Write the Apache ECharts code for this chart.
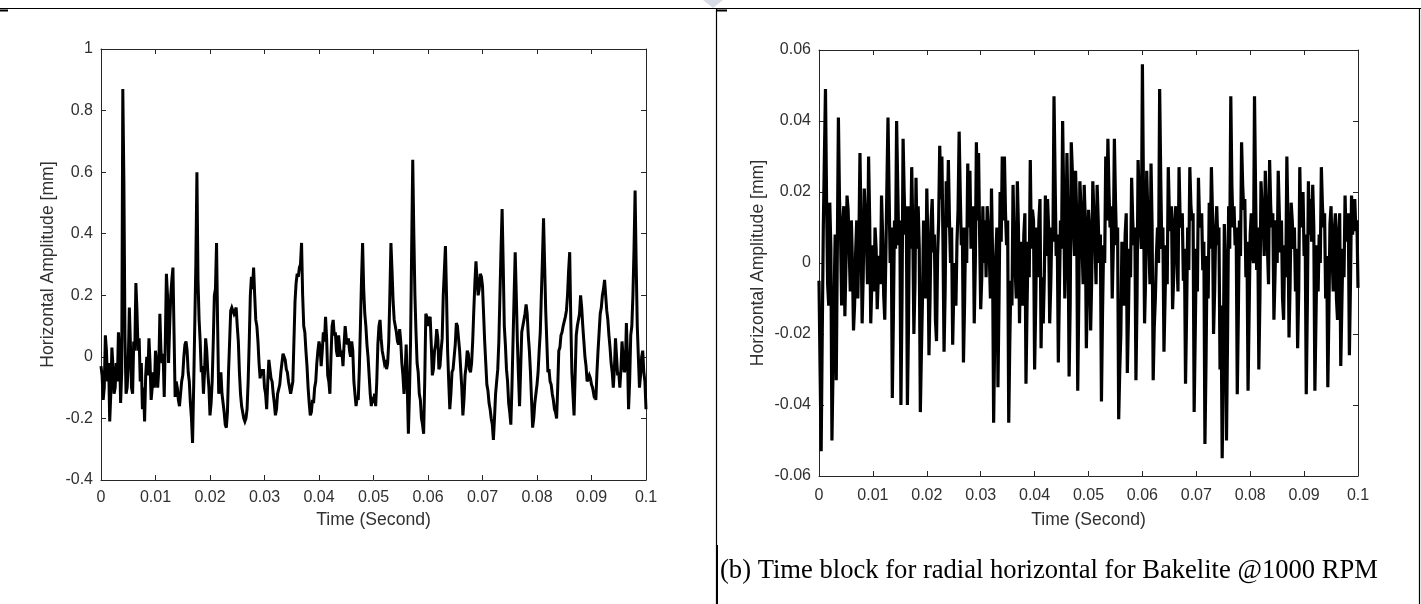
<!DOCTYPE html>
<html>
<head>
<meta charset="utf-8">
<script src="https://cdn.jsdelivr.net/npm/echarts@6/dist/echarts.min.js"></script>
<style>
html,body{margin:0;padding:0;background:#ffffff;}
#chart{width:1421px;height:604px;}
</style>
</head>
<body>
<div id="chart"></div>
<script>
// ---------------- data ----------------
const leftSampleStep = 0.0002;  // seconds between samples, panel (a)
const rightSampleStep = 0.0002; // seconds between samples, panel (b)

const xTickLabels = ['0','0.01','0.02','0.03','0.04','0.05','0.06','0.07','0.08','0.09','0.1'];
const leftYTickLabels = ['-0.4','-0.2','0','0.2','0.4','0.6','0.8','1'];
const rightYTickLabels = ['-0.06','-0.04','-0.02','0','0.02','0.04','0.06'];

const xTitle = 'Time (Second)';
const yTitle = 'Horizontal Amplitude [mm]';
const captionRight = '(b) Time block for radial horizontal for Bakelite @1000 RPM';

// panel (a): horizontal amplitude [mm]
const leftAmplitude = [
 -0.03,-0.06,-0.14,-0.10,0.07,0.02,-0.08,-0.02,-0.21,-0.12,
 0.03,-0.03,-0.12,-0.10,-0.02,-0.08,0.08,0.02,-0.15,-0.05,
 0.87,0.57,0.06,-0.12,-0.10,-0.02,0.16,0.04,-0.10,-0.12,
 0.05,0.02,0.24,0.15,0.02,0.06,-0.08,-0.02,-0.17,-0.10,
 -0.21,-0.06,0.00,-0.06,0.06,-0.02,-0.14,-0.10,-0.05,-0.10,
 0.02,-0.02,-0.10,-0.04,0.14,0.02,-0.02,0.01,-0.13,0.05,
 0.27,0.20,-0.02,0.10,0.20,0.25,0.29,0.08,-0.13,-0.08,
 -0.10,-0.14,-0.16,-0.12,-0.08,-0.06,0.00,0.04,0.05,0.02,
 -0.05,-0.08,-0.15,-0.20,-0.28,-0.10,0.10,0.30,0.60,0.25,
 0.12,0.05,-0.05,-0.03,-0.12,-0.05,0.06,0.02,-0.05,-0.10,
 -0.19,-0.15,-0.08,0.05,0.20,0.22,0.37,0.10,-0.12,-0.10,
 -0.05,-0.12,-0.15,-0.18,-0.22,-0.23,-0.18,-0.05,0.05,0.15,
 0.16,0.15,0.14,0.15,0.16,0.10,0.05,-0.05,-0.12,-0.16,
 -0.18,-0.20,-0.21,-0.20,-0.17,-0.08,0.05,0.20,0.26,0.22,
 0.29,0.20,0.12,0.10,0.05,-0.02,-0.07,-0.04,-0.06,-0.04,
 -0.10,-0.12,-0.17,-0.08,-0.01,-0.04,-0.07,-0.08,-0.12,-0.15,
 -0.19,-0.17,-0.12,-0.12,-0.09,-0.05,-0.02,0.01,0.00,-0.01,
 -0.04,-0.05,-0.08,-0.10,-0.12,-0.12,-0.08,0.05,0.18,0.24,
 0.27,0.26,0.29,0.30,0.37,0.20,0.10,0.08,0.02,-0.03,
 -0.10,-0.15,-0.19,-0.18,-0.14,-0.15,-0.10,-0.08,-0.02,0.02,
 0.05,0.03,-0.03,0.02,0.08,0.05,0.13,0.06,-0.06,-0.08,
 -0.12,0.00,0.10,0.12,0.07,0.08,0.02,0.00,0.07,0.03,
 0.00,0.02,-0.03,0.04,0.10,0.06,0.04,0.06,0.02,0.00,
 0.05,0.02,-0.08,-0.12,-0.16,-0.13,-0.14,-0.04,0.10,0.25,
 0.37,0.22,0.14,0.10,0.04,0.00,-0.06,-0.12,-0.16,-0.13,
 -0.15,-0.12,-0.16,-0.08,0.04,0.10,0.12,0.06,0.02,0.00,
 -0.02,-0.01,-0.04,-0.02,0.05,0.20,0.37,0.28,0.18,0.12,
 0.10,0.08,0.05,0.04,0.09,0.05,-0.02,-0.06,-0.12,-0.05,
 0.04,-0.10,-0.25,-0.12,0.05,0.35,0.64,0.40,0.20,0.08,
 -0.02,-0.05,-0.12,-0.14,-0.20,-0.22,-0.25,-0.08,0.14,0.13,
 0.10,0.12,0.13,0.04,-0.06,-0.04,0.02,0.04,0.09,0.06,
 -0.04,-0.03,0.02,0.06,0.20,0.28,0.36,0.20,0.02,-0.08,
 -0.17,-0.12,-0.05,-0.04,0.00,0.04,0.11,0.10,0.06,0.02,
 -0.04,-0.10,-0.19,-0.14,-0.06,-0.03,0.02,0.01,-0.04,-0.05,
 -0.02,0.05,0.15,0.24,0.31,0.25,0.20,0.22,0.27,0.26,
 0.23,0.14,0.05,-0.02,-0.09,-0.11,-0.15,-0.17,-0.20,-0.22,
 -0.27,-0.20,-0.12,-0.08,-0.04,0.05,0.20,0.35,0.48,0.30,
 0.10,0.04,-0.04,-0.08,-0.15,-0.18,-0.22,-0.10,0.05,0.20,
 0.34,0.20,0.05,-0.06,-0.16,-0.04,0.08,0.10,0.12,0.14,
 0.17,0.14,0.07,0.02,-0.05,-0.14,-0.23,-0.20,-0.15,-0.12,
 -0.09,-0.05,0.02,0.08,0.20,0.32,0.45,0.30,0.15,0.05,
 -0.05,-0.04,-0.08,-0.09,-0.12,-0.14,-0.17,-0.18,-0.20,-0.10,
 0.02,0.03,0.07,0.08,0.10,0.10,0.13,0.15,0.20,0.28,
 0.34,0.12,-0.05,-0.12,-0.19,-0.06,0.07,0.10,0.12,0.14,
 0.20,0.16,0.10,0.05,0.00,-0.03,-0.08,-0.07,-0.06,-0.07,
 -0.09,-0.10,-0.12,-0.11,-0.14,-0.05,0.02,0.08,0.14,0.16,
 0.20,0.22,0.25,0.20,0.15,0.12,0.07,0.03,-0.02,-0.05,
 -0.10,-0.04,0.06,0.00,-0.06,-0.05,-0.10,-0.04,0.05,0.00,
 -0.05,-0.04,0.11,0.00,-0.17,-0.08,0.07,0.10,0.20,0.35,
 0.54,0.30,0.10,0.00,-0.10,-0.06,0.00,0.02,-0.05,-0.08,
 -0.17
];

// panel (b): horizontal amplitude [mm], Bakelite @1000 RPM
const rightAmplitude = [
 -0.005,-0.030,-0.053,-0.020,0.010,0.030,0.049,0.018,-0.006,-0.012,
 0.017,0.004,-0.050,-0.030,-0.010,0.008,-0.033,0.004,0.041,0.018,
 0.008,-0.012,0.010,0.016,-0.015,0.000,0.019,0.015,0.004,-0.008,
 0.012,0.000,-0.019,-0.012,0.003,0.012,-0.010,0.006,0.031,0.010,
 -0.017,-0.004,0.021,0.014,0.006,-0.006,0.030,0.012,-0.017,-0.006,
 0.005,-0.008,0.010,0.004,-0.013,-0.004,0.002,-0.006,0.019,0.008,
 -0.009,-0.016,0.002,0.022,0.041,0.020,0.000,0.010,-0.038,-0.015,
 0.012,0.004,0.040,0.022,0.005,0.012,-0.040,-0.010,0.035,0.020,
 0.008,0.016,-0.040,-0.018,0.016,0.004,0.027,0.010,-0.020,-0.006,
 0.024,0.004,0.016,0.004,-0.042,-0.025,-0.010,0.012,0.000,-0.010,
 0.021,0.006,-0.026,-0.010,0.012,0.018,0.003,0.008,-0.016,-0.022,
 0.002,0.012,0.033,0.018,0.030,0.006,-0.025,-0.008,0.023,0.010,
 0.029,0.012,0.000,0.010,-0.023,-0.008,0.000,-0.012,0.006,0.015,
 0.037,0.020,0.005,0.010,-0.028,-0.012,0.010,0.000,0.028,0.010,
 0.026,0.004,0.013,0.016,-0.017,0.000,0.034,0.012,0.031,0.008,
 -0.013,-0.004,0.016,0.000,0.012,-0.004,0.016,0.010,0.002,-0.010,
 0.021,0.002,-0.045,-0.020,0.002,0.010,-0.035,-0.010,0.020,0.006,
 0.030,0.012,0.030,0.014,0.005,0.012,-0.045,-0.022,-0.005,-0.012,
 0.022,0.006,-0.002,-0.010,0.023,0.010,-0.017,0.006,-0.005,-0.012,
 0.008,0.014,-0.034,-0.012,0.006,-0.004,0.029,0.004,0.015,0.012,
 -0.030,-0.012,0.010,-0.004,0.012,0.018,-0.024,-0.004,-0.017,-0.004,
 0.019,0.002,0.018,0.010,-0.017,-0.006,0.010,0.006,0.047,0.024,
 0.002,0.008,-0.028,-0.008,0.012,0.004,0.040,0.018,-0.010,0.004,
 0.031,0.012,-0.032,-0.012,0.034,0.026,0.010,0.002,0.026,0.014,
 -0.036,-0.010,0.023,0.016,0.005,-0.006,0.022,0.012,-0.024,-0.008,
 0.015,0.010,-0.019,-0.004,0.023,0.014,0.006,-0.006,0.022,0.012,
 0.000,0.008,-0.039,-0.014,0.005,0.000,0.030,0.012,0.035,0.020,
 0.010,0.016,-0.010,0.004,0.035,0.018,0.005,0.010,-0.044,-0.030,
 -0.020,0.006,0.000,-0.012,0.008,0.014,-0.031,-0.016,0.004,-0.004,
 0.024,0.012,0.005,0.010,-0.033,-0.010,0.029,0.018,0.010,0.004,
 0.056,0.020,-0.017,-0.004,0.026,0.014,0.005,-0.006,0.028,0.010,
 -0.033,-0.018,-0.010,0.002,0.010,0.000,0.049,0.024,0.004,0.010,
 -0.025,-0.010,0.005,-0.006,0.027,0.014,0.009,0.016,-0.013,-0.004,
 0.012,0.016,0.002,-0.008,0.027,0.012,0.010,0.014,-0.005,0.004,
 -0.034,-0.014,0.010,-0.002,0.027,0.016,0.012,0.014,-0.042,-0.020,
 0.004,-0.008,0.024,0.012,0.010,0.014,-0.002,0.006,-0.051,-0.028,
 0.002,-0.010,0.017,0.004,0.027,0.014,-0.020,-0.008,0.010,0.016,
 0.005,0.010,-0.030,-0.012,-0.055,-0.030,0.011,0.000,-0.050,-0.020,
 0.016,0.004,0.047,0.022,0.010,0.016,0.005,0.010,-0.037,-0.014,
 0.012,0.002,0.034,0.022,0.015,0.018,-0.004,0.006,-0.036,-0.014,
 0.008,0.014,0.003,0.000,0.047,0.020,-0.002,0.010,-0.030,-0.010,
 0.023,0.016,0.012,0.002,0.026,0.016,0.004,-0.006,0.029,0.016,
 0.010,0.014,-0.016,-0.004,0.012,0.000,0.026,0.014,0.003,0.012,
 -0.010,-0.016,0.005,-0.004,0.030,0.012,-0.021,-0.006,0.017,0.012,
 0.004,0.010,-0.008,0.004,-0.024,-0.008,0.027,0.010,0.015,0.020,
 0.002,0.008,-0.037,-0.012,0.023,0.008,0.018,0.006,0.022,0.010,
 -0.036,-0.016,0.005,-0.008,0.008,0.000,0.027,0.016,0.010,0.014,
 -0.010,0.002,-0.035,-0.014,0.011,0.016,0.002,-0.008,0.009,0.014,
 -0.010,-0.016,0.009,0.014,-0.029,-0.012,0.004,-0.004,0.019,0.006,
 0.012,0.014,-0.026,-0.006,0.019,0.008,0.016,0.018,0.009,0.012,
 -0.007
];

// ---------------- chart ----------------
const toPairs = (arr, step) => arr.map((v, i) => [+(i * step).toFixed(6), v]);

const AXIS = '#262626';
const TXT = '#303030';
const SANS = "'Liberation Sans', Arial, Helvetica, sans-serif";

function labelFrom(list, min, step) {
  return v => {
    const k = Math.round((v - min) / step);
    return list[k] !== undefined ? list[k] : '';
  };
}

function xAxes(gridIndex, margin, nameGap) {
  const common = {
    type: 'value', gridIndex, min: 0, max: 0.1, interval: 0.01,
    splitLine: {show: false},
    axisLine: {show: true, onZero: false, lineStyle: {color: AXIS, width: 1}},
    axisTick: {show: true, inside: true, length: 5, lineStyle: {color: AXIS}}
  };
  return [
    Object.assign({}, common, {
      position: 'bottom',
      axisLabel: {show: true, margin, color: TXT, fontSize: 16, fontFamily: SANS,
                  formatter: labelFrom(xTickLabels, 0, 0.01)},
      name: xTitle, nameLocation: 'middle', nameGap,
      nameTextStyle: {color: TXT, fontSize: 17.6, fontFamily: SANS}
    }),
    Object.assign({}, common, {position: 'top', axisLabel: {show: false}})
  ];
}

function yAxes(gridIndex, min, max, interval, labels, nameGap) {
  const common = {
    type: 'value', gridIndex, min, max, interval,
    splitLine: {show: false},
    axisLine: {show: true, onZero: false, lineStyle: {color: AXIS, width: 1}},
    axisTick: {show: true, inside: true, length: 5, lineStyle: {color: AXIS}}
  };
  return [
    Object.assign({}, common, {
      position: 'left',
      axisLabel: {show: true, margin: 8, color: TXT, fontSize: 16, fontFamily: SANS,
                  formatter: labelFrom(labels, min, interval)},
      name: yTitle, nameLocation: 'middle', nameGap, nameRotate: 90,
      nameTextStyle: {color: TXT, fontSize: 17.6, fontFamily: SANS}
    }),
    Object.assign({}, common, {position: 'right', axisLabel: {show: false}})
  ];
}

const chart = echarts.init(document.getElementById('chart'), null, {renderer: 'canvas'});

chart.setOption({
  backgroundColor: '#ffffff',
  animation: false,
  grid: [
    {left: 101, top: 49, width: 545, height: 431, containLabel: false},
    {left: 819, top: 50, width: 539, height: 426, containLabel: false}
  ],
  xAxis: [...xAxes(0, 10, 31), ...xAxes(1, 11.5, 35)],
  yAxis: [...yAxes(0, -0.4, 1, 0.2, leftYTickLabels, 44),
          ...yAxes(1, -0.06, 0.06, 0.02, rightYTickLabels, 52)],
  series: [
    {type: 'line', xAxisIndex: 0, yAxisIndex: 0, data: toPairs(leftAmplitude, leftSampleStep),
     showSymbol: false, symbol: 'none', sampling: null, clip: true,
     lineStyle: {color: '#000000', width: 3, join: 'miter', miterLimit: 4}},
    {type: 'line', xAxisIndex: 2, yAxisIndex: 2, data: toPairs(rightAmplitude, rightSampleStep),
     showSymbol: false, symbol: 'none', sampling: null, clip: true,
     lineStyle: {color: '#000000', width: 3.2, join: 'miter', miterLimit: 4}}
  ],
  graphic: [
    {type: 'line', shape: {x1: 0, y1: 8.5, x2: 1421, y2: 8.5}, style: {stroke: '#000', lineWidth: 1.2}, silent: true},
    {type: 'line', shape: {x1: 0, y1: 10.5, x2: 8, y2: 10.5}, style: {stroke: '#000', lineWidth: 2}, silent: true},
    {type: 'line', shape: {x1: 716, y1: 10.5, x2: 727, y2: 10.5}, style: {stroke: '#000', lineWidth: 2}, silent: true},
    {type: 'line', shape: {x1: 716.5, y1: 8, x2: 716.5, y2: 604}, style: {stroke: '#000', lineWidth: 1.2}, silent: true},
    {type: 'line', shape: {x1: 717, y1: 545, x2: 717, y2: 604}, style: {stroke: '#000', lineWidth: 2}, silent: true},
    {type: 'line', shape: {x1: 1419.5, y1: 8, x2: 1419.5, y2: 604}, style: {stroke: '#000', lineWidth: 1.2}, silent: true},
    {type: 'polygon', shape: {points: [[703, 0], [723, 0], [713, 8]]}, style: {fill: '#d6dbe6'}, silent: true},
    {type: 'text', left: 720, top: 558,
     style: {text: captionRight, font: "26.6px 'Liberation Serif', 'Times New Roman', serif", fill: '#000'}, silent: true}
  ]
});
</script>
</body>
</html>
